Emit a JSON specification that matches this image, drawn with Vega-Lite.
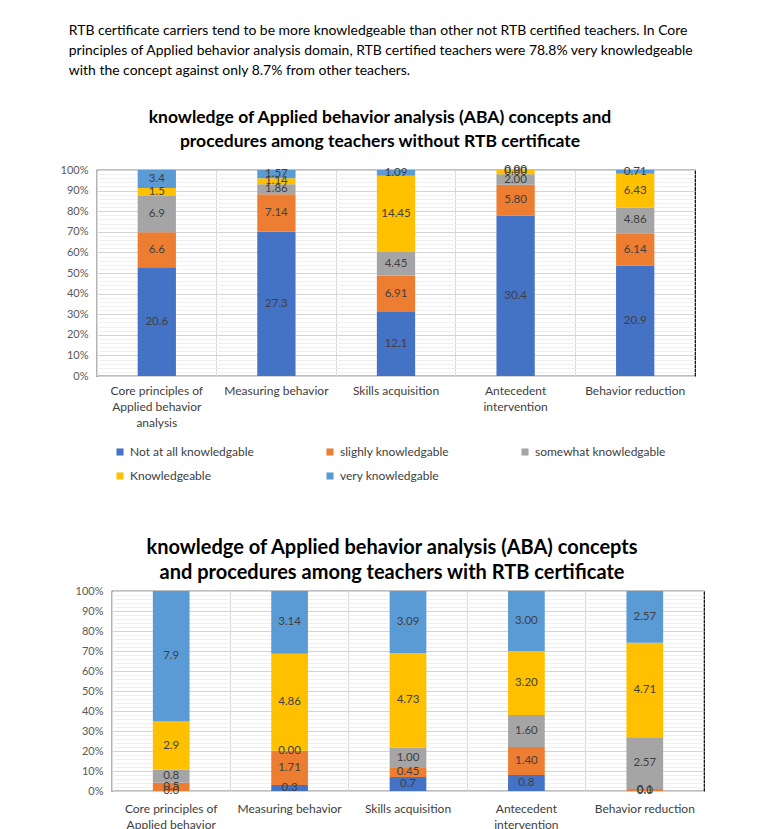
{
  "$schema": "https://vega.github.io/schema/vega-lite/v6.json",
  "background": "white",
  "padding": {"left": 52, "top": 23, "right": 10, "bottom": 0},
  "title": {
    "text": [
      "RTB certificate carriers tend to be more knowledgeable than other not RTB certified teachers. In Core",
      "principles of Applied behavior analysis domain, RTB certified teachers were 78.8% very knowledgeable",
      "with the concept against only 8.7% from other teachers."
    ],
    "anchor": "start",
    "frame": "bounds",
    "font": "Lato",
    "fontSize": 13.95,
    "fontWeight": "normal",
    "lineHeight": 20,
    "color": "#000000",
    "offset": 30,
    "dx": 16
  },
  "datasets": {
    "without": [
      {"cat": "Core principles of Applied behavior analysis", "level": "Not at all knowledgable", "value": 20.6, "label": "20.6"},
      {"cat": "Core principles of Applied behavior analysis", "level": "slighly knowledgable", "value": 6.6, "label": "6.6"},
      {"cat": "Core principles of Applied behavior analysis", "level": "somewhat knowledgable", "value": 6.9, "label": "6.9"},
      {"cat": "Core principles of Applied behavior analysis", "level": "Knowledgeable", "value": 1.5, "label": "1.5"},
      {"cat": "Core principles of Applied behavior analysis", "level": "very knowledgable", "value": 3.4, "label": "3.4"},
      {"cat": "Measuring behavior", "level": "Not at all knowledgable", "value": 27.3, "label": "27.3"},
      {"cat": "Measuring behavior", "level": "slighly knowledgable", "value": 7.14, "label": "7.14"},
      {"cat": "Measuring behavior", "level": "somewhat knowledgable", "value": 1.86, "label": "1.86"},
      {"cat": "Measuring behavior", "level": "Knowledgeable", "value": 1.14, "label": "1.14"},
      {"cat": "Measuring behavior", "level": "very knowledgable", "value": 1.57, "label": "1.57"},
      {"cat": "Skills acquisition", "level": "Not at all knowledgable", "value": 12.1, "label": "12.1"},
      {"cat": "Skills acquisition", "level": "slighly knowledgable", "value": 6.91, "label": "6.91"},
      {"cat": "Skills acquisition", "level": "somewhat knowledgable", "value": 4.45, "label": "4.45"},
      {"cat": "Skills acquisition", "level": "Knowledgeable", "value": 14.45, "label": "14.45"},
      {"cat": "Skills acquisition", "level": "very knowledgable", "value": 1.09, "label": "1.09"},
      {"cat": "Antecedent intervention", "level": "Not at all knowledgable", "value": 30.4, "label": "30.4"},
      {"cat": "Antecedent intervention", "level": "slighly knowledgable", "value": 5.8, "label": "5.80"},
      {"cat": "Antecedent intervention", "level": "somewhat knowledgable", "value": 2.0, "label": "2.00"},
      {"cat": "Antecedent intervention", "level": "Knowledgeable", "value": 0.8, "label": "0.80"},
      {"cat": "Antecedent intervention", "level": "very knowledgable", "value": 0.0, "label": "0.00"},
      {"cat": "Behavior reduction", "level": "Not at all knowledgable", "value": 20.9, "label": "20.9"},
      {"cat": "Behavior reduction", "level": "slighly knowledgable", "value": 6.14, "label": "6.14"},
      {"cat": "Behavior reduction", "level": "somewhat knowledgable", "value": 4.86, "label": "4.86"},
      {"cat": "Behavior reduction", "level": "Knowledgeable", "value": 6.43, "label": "6.43"},
      {"cat": "Behavior reduction", "level": "very knowledgable", "value": 0.71, "label": "0.71"}
    ],
    "with": [
      {"cat": "Core principles of Applied behavior analysis", "level": "Not at all knowledgable", "value": 0.0, "label": "0.0"},
      {"cat": "Core principles of Applied behavior analysis", "level": "slighly knowledgable", "value": 0.5, "label": "0.5"},
      {"cat": "Core principles of Applied behavior analysis", "level": "somewhat knowledgable", "value": 0.8, "label": "0.8"},
      {"cat": "Core principles of Applied behavior analysis", "level": "Knowledgeable", "value": 2.9, "label": "2.9"},
      {"cat": "Core principles of Applied behavior analysis", "level": "very knowledgable", "value": 7.9, "label": "7.9"},
      {"cat": "Measuring behavior", "level": "Not at all knowledgable", "value": 0.3, "label": "0.3"},
      {"cat": "Measuring behavior", "level": "slighly knowledgable", "value": 1.71, "label": "1.71"},
      {"cat": "Measuring behavior", "level": "somewhat knowledgable", "value": 0.0, "label": "0.00"},
      {"cat": "Measuring behavior", "level": "Knowledgeable", "value": 4.86, "label": "4.86"},
      {"cat": "Measuring behavior", "level": "very knowledgable", "value": 3.14, "label": "3.14"},
      {"cat": "Skills acquisition", "level": "Not at all knowledgable", "value": 0.7, "label": "0.7"},
      {"cat": "Skills acquisition", "level": "slighly knowledgable", "value": 0.45, "label": "0.45"},
      {"cat": "Skills acquisition", "level": "somewhat knowledgable", "value": 1.0, "label": "1.00"},
      {"cat": "Skills acquisition", "level": "Knowledgeable", "value": 4.73, "label": "4.73"},
      {"cat": "Skills acquisition", "level": "very knowledgable", "value": 3.09, "label": "3.09"},
      {"cat": "Antecedent intervention", "level": "Not at all knowledgable", "value": 0.8, "label": "0.8"},
      {"cat": "Antecedent intervention", "level": "slighly knowledgable", "value": 1.4, "label": "1.40"},
      {"cat": "Antecedent intervention", "level": "somewhat knowledgable", "value": 1.6, "label": "1.60"},
      {"cat": "Antecedent intervention", "level": "Knowledgeable", "value": 3.2, "label": "3.20"},
      {"cat": "Antecedent intervention", "level": "very knowledgable", "value": 3.0, "label": "3.00"},
      {"cat": "Behavior reduction", "level": "Not at all knowledgable", "value": 0.0, "label": "0.0"},
      {"cat": "Behavior reduction", "level": "slighly knowledgable", "value": 0.1, "label": "0.1"},
      {"cat": "Behavior reduction", "level": "somewhat knowledgable", "value": 2.57, "label": "2.57"},
      {"cat": "Behavior reduction", "level": "Knowledgeable", "value": 4.71, "label": "4.71"},
      {"cat": "Behavior reduction", "level": "very knowledgable", "value": 2.57, "label": "2.57"}
    ],
    "blank": [{}]
  },
  "spacing": 37,
  "resolve": {"scale": {"color": "independent"}, "legend": {"color": "independent"}},
  "vconcat": [
    {
      "spacing": 0,
      "resolve": {"scale": {"color": "independent"}, "legend": {"color": "independent"}},
      "hconcat": [
        {
          "width": 1, "height": 1,
          "view": {"stroke": null},
          "data": {"name": "blank"},
          "mark": {"type": "point", "opacity": 0},
          "encoding": {}
        },
        {
          "data": {"name": "without"},
          "width": 598,
          "height": 206,
          "title": {
            "text": ["knowledge of Applied behavior analysis (ABA) concepts and", "procedures among teachers without RTB certificate"],
            "font": "Lato", "fontSize": 17.5, "fontWeight": "bold", "lineHeight": 24, "color": "#000000",
            "anchor": "middle", "dx": -16, "offset": 14
          },
          "transform": [{"window": [{"op": "row_number", "as": "rank"}], "groupby": ["cat"]}],
          "encoding": {
            "x": {
              "field": "cat", "type": "nominal",
              "sort": ["Core principles of Applied behavior analysis", "Measuring behavior", "Skills acquisition", "Antecedent intervention", "Behavior reduction"],
              "scale": {"paddingInner": 0, "paddingOuter": 0},
              "axis": {
                "title": null, "labelAngle": 0, "grid": true, "bandPosition": 0, "gridColor": "#d9d9d9",
                "ticks": false, "domain": false, "labelFont": "Lato", "labelFontSize": 12, "labelColor": "#404040",
                "labelPadding": 9, "labelLineHeight": 16, "labelLimit": 200, "labelBaseline": "top",
                "labelExpr": "datum.label == 'Core principles of Applied behavior analysis' ? ['Core principles of', 'Applied behavior', 'analysis'] : datum.label == 'Antecedent intervention' ? ['Antecedent', 'intervention'] : datum.label"
              }
            },
            "order": {"field": "rank", "type": "quantitative", "sort": "ascending"}
          },
          "layer": [
            {
              "mark": {"type": "bar", "width": {"band": 0.32}},
              "encoding": {
                "y": {
                  "field": "value", "type": "quantitative", "stack": "normalize",
                  "axis": {
                    "title": null, "format": ".0%",
                    "values": [0,0.02,0.04,0.06,0.08,0.1,0.12,0.14,0.16,0.18,0.2,0.22,0.24,0.26,0.28,0.3,0.32,0.34,0.36,0.38,0.4,0.42,0.44,0.46,0.48,0.5,0.52,0.54,0.56,0.58,0.6,0.62,0.64,0.66,0.68,0.7,0.72,0.74,0.76,0.78,0.8,0.82,0.84,0.86,0.88,0.9,0.92,0.94,0.96,0.98,1],
                    "labelOverlap": false,
                    "labelExpr": "round(datum.value*100) % 10 == 0 ? datum.label : ''",
                    "gridColor": {"condition": {"test": "round(datum.value*100) % 10 == 0", "value": "#d4d4d4"}, "value": "#f0f0f0"},
                    "ticks": false, "domain": false, "labelFont": "Lato", "labelFontSize": 11, "labelColor": "#595959", "labelPadding": 9
                  }
                },
                "color": {
                  "field": "level", "type": "nominal",
                  "sort": ["Not at all knowledgable", "slighly knowledgable", "somewhat knowledgable", "Knowledgeable", "very knowledgable"],
                  "scale": {
                    "domain": ["Not at all knowledgable", "slighly knowledgable", "somewhat knowledgable", "Knowledgeable", "very knowledgable"],
                    "range": ["#4472C4", "#ED7D31", "#A5A5A5", "#FFC000", "#5B9BD5"]
                  },
                  "legend": {
                    "title": null, "orient": "bottom", "direction": "horizontal", "columns": 3,
                    "columnPadding": 70, "rowPadding": 12, "symbolType": "square", "symbolSize": 50, "padding": 17,
                    "labelFont": "Lato", "labelFontSize": 12, "labelColor": "#404040", "labelOffset": 4, "offset": 1, "labelLimit": 250
                  }
                }
              }
            },
            {
              "mark": {"type": "text", "font": "Lato", "fontSize": 11.5, "baseline": "middle"},
              "encoding": {
                "y": {
                  "field": "value", "type": "quantitative", "stack": "normalize", "bandPosition": 0.5,
                  "axis": {
                    "title": null, "format": ".0%",
                    "values": [0,0.02,0.04,0.06,0.08,0.1,0.12,0.14,0.16,0.18,0.2,0.22,0.24,0.26,0.28,0.3,0.32,0.34,0.36,0.38,0.4,0.42,0.44,0.46,0.48,0.5,0.52,0.54,0.56,0.58,0.6,0.62,0.64,0.66,0.68,0.7,0.72,0.74,0.76,0.78,0.8,0.82,0.84,0.86,0.88,0.9,0.92,0.94,0.96,0.98,1],
                    "labelOverlap": false,
                    "labelExpr": "round(datum.value*100) % 10 == 0 ? datum.label : ''",
                    "gridColor": {"condition": {"test": "round(datum.value*100) % 10 == 0", "value": "#d4d4d4"}, "value": "#f0f0f0"},
                    "ticks": false, "domain": false, "labelFont": "Lato", "labelFontSize": 11, "labelColor": "#595959", "labelPadding": 9
                  }
                },
                "text": {"field": "label", "type": "nominal"},
                "color": {
                  "field": "level", "type": "nominal",
                  "scale": {"range": ["#404040", "#404040", "#404040", "#404040", "#404040"]},
                  "legend": null
                }
              }
            }
          ],
          "resolve": {"scale": {"color": "independent"}}
        }
      ]
    },
    {
      "spacing": 0,
      "resolve": {"scale": {"color": "independent"}, "legend": {"color": "independent"}},
      "hconcat": [
        {
          "width": 19, "height": 1,
          "view": {"stroke": null},
          "data": {"name": "blank"},
          "mark": {"type": "point", "opacity": 0},
          "encoding": {}
        },
        {
          "data": {"name": "with"},
          "width": 592,
          "height": 200,
          "title": {
            "text": ["knowledge of Applied behavior analysis (ABA) concepts", "and procedures among teachers with RTB certificate"],
            "font": "Lato", "fontSize": 20, "fontWeight": "bold", "lineHeight": 25, "color": "#000000",
            "anchor": "middle", "dx": -16, "offset": 2
          },
          "transform": [{"window": [{"op": "row_number", "as": "rank"}], "groupby": ["cat"]}],
          "encoding": {
            "x": {
              "field": "cat", "type": "nominal",
              "sort": ["Core principles of Applied behavior analysis", "Measuring behavior", "Skills acquisition", "Antecedent intervention", "Behavior reduction"],
              "scale": {"paddingInner": 0, "paddingOuter": 0},
              "axis": {
                "title": null, "labelAngle": 0, "grid": true, "bandPosition": 0, "gridColor": "#d9d9d9",
                "ticks": false, "domain": false, "labelFont": "Lato", "labelFontSize": 12, "labelColor": "#404040",
                "labelPadding": 12, "labelLineHeight": 16, "labelLimit": 200, "labelBaseline": "top",
                "labelExpr": "datum.label == 'Core principles of Applied behavior analysis' ? ['Core principles of', 'Applied behavior', 'analysis'] : datum.label == 'Antecedent intervention' ? ['Antecedent', 'intervention'] : datum.label"
              }
            },
            "order": {"field": "rank", "type": "quantitative", "sort": "ascending"}
          },
          "layer": [
            {
              "mark": {"type": "bar", "width": {"band": 0.31}},
              "encoding": {
                "y": {
                  "field": "value", "type": "quantitative", "stack": "normalize",
                  "axis": {
                    "title": null, "format": ".0%",
                    "values": [0,0.02,0.04,0.06,0.08,0.1,0.12,0.14,0.16,0.18,0.2,0.22,0.24,0.26,0.28,0.3,0.32,0.34,0.36,0.38,0.4,0.42,0.44,0.46,0.48,0.5,0.52,0.54,0.56,0.58,0.6,0.62,0.64,0.66,0.68,0.7,0.72,0.74,0.76,0.78,0.8,0.82,0.84,0.86,0.88,0.9,0.92,0.94,0.96,0.98,1],
                    "labelOverlap": false,
                    "labelExpr": "round(datum.value*100) % 10 == 0 ? datum.label : ''",
                    "gridColor": {"condition": {"test": "round(datum.value*100) % 10 == 0", "value": "#d4d4d4"}, "value": "#f0f0f0"},
                    "ticks": false, "domain": false, "labelFont": "Lato", "labelFontSize": 11, "labelColor": "#595959", "labelPadding": 9
                  }
                },
                "color": {
                  "field": "level", "type": "nominal",
                  "scale": {
                    "domain": ["Not at all knowledgable", "slighly knowledgable", "somewhat knowledgable", "Knowledgeable", "very knowledgable"],
                    "range": ["#4472C4", "#ED7D31", "#A5A5A5", "#FFC000", "#5B9BD5"]
                  },
                  "legend": null
                }
              }
            },
            {
              "mark": {"type": "text", "font": "Lato", "fontSize": 11.5, "baseline": "middle"},
              "encoding": {
                "y": {
                  "field": "value", "type": "quantitative", "stack": "normalize", "bandPosition": 0.5,
                  "axis": {
                    "title": null, "format": ".0%",
                    "values": [0,0.02,0.04,0.06,0.08,0.1,0.12,0.14,0.16,0.18,0.2,0.22,0.24,0.26,0.28,0.3,0.32,0.34,0.36,0.38,0.4,0.42,0.44,0.46,0.48,0.5,0.52,0.54,0.56,0.58,0.6,0.62,0.64,0.66,0.68,0.7,0.72,0.74,0.76,0.78,0.8,0.82,0.84,0.86,0.88,0.9,0.92,0.94,0.96,0.98,1],
                    "labelOverlap": false,
                    "labelExpr": "round(datum.value*100) % 10 == 0 ? datum.label : ''",
                    "gridColor": {"condition": {"test": "round(datum.value*100) % 10 == 0", "value": "#d4d4d4"}, "value": "#f0f0f0"},
                    "ticks": false, "domain": false, "labelFont": "Lato", "labelFontSize": 11, "labelColor": "#595959", "labelPadding": 9
                  }
                },
                "text": {"field": "label", "type": "nominal"},
                "color": {
                  "field": "level", "type": "nominal",
                  "scale": {"range": ["#404040", "#404040", "#404040", "#404040", "#404040"]},
                  "legend": null
                }
              }
            }
          ],
          "resolve": {"scale": {"color": "independent"}}
        }
      ]
    }
  ],
  "config": {
    "view": {"stroke": "#000000", "strokeWidth": 1.2},
    "font": "Lato"
  }
}
